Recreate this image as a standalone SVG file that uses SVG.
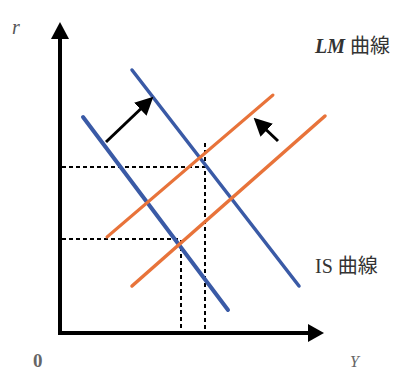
<svg xmlns="http://www.w3.org/2000/svg" width="416" height="372" viewBox="0 0 416 372">
<defs>
<style>
.ax{stroke:#000;stroke-width:4;fill:none}
.dash{stroke:#000;stroke-width:2;stroke-dasharray:4 3;fill:none}
.is{stroke:#3a5aa6;fill:none;stroke-linecap:round}
.lm{stroke:#e8733a;fill:none;stroke-linecap:round}
.arr{stroke:#000;stroke-width:3;fill:none}
.lbl{font-family:"Liberation Serif","Noto Sans CJK JP",serif;fill:#333}
</style>
<marker id="ah" markerWidth="6" markerHeight="6" refX="4" refY="3" orient="auto" markerUnits="strokeWidth">
<path d="M0,0 L6,3 L0,6 Z" fill="#000"/>
</marker>
</defs>
<rect width="416" height="372" fill="#fff"/>
<g id="axes">
<line class="ax" x1="60" y1="335" x2="60" y2="36"/>
<polygon points="60,22 51,39 69,39" fill="#000"/>
<line class="ax" x1="58" y1="333" x2="310" y2="333"/>
<polygon points="324,333 308,324 308,342" fill="#000"/>
</g>
<g id="guides">
<line class="dash" x1="62" y1="167" x2="205" y2="167"/>
<line class="dash" x1="62" y1="239" x2="181" y2="239"/>
<line class="dash" x1="181" y1="240" x2="181" y2="331"/>
<line class="dash" x1="205" y1="143" x2="205" y2="331"/>
</g>
<g id="is-curves">
<line class="is" x1="83" y1="117" x2="228" y2="310" stroke-width="4"/>
<line class="is" x1="132" y1="70" x2="299" y2="286" stroke-width="3.5"/>
</g>
<g id="lm-curves">
<line class="lm" x1="107" y1="237" x2="273" y2="95" stroke-width="3"/>
<line class="lm" x1="132" y1="286" x2="325" y2="116" stroke-width="3.5"/>
</g>
<g id="connectors">
<line class="arr" x1="106" y1="142" x2="149" y2="101" marker-end="url(#ah)"/>
<line class="arr" x1="278" y1="141" x2="258" y2="122" marker-end="url(#ah)"/>
</g>
<g id="labels">
<text class="lbl" x="12" y="34" font-size="20" font-style="italic" style="fill:#555">r</text>
<text class="lbl" x="33" y="367" font-size="19" font-weight="bold" style="fill:#666">0</text>
<text class="lbl" x="350" y="367" font-size="16" font-style="italic" style="fill:#666">Y</text>
<text class="lbl" x="315" y="53" font-size="20"><tspan font-style="italic" font-weight="bold">LM</tspan> 曲線</text>
<text class="lbl" x="315" y="273" font-size="20">IS 曲線</text>
</g>
</svg>
